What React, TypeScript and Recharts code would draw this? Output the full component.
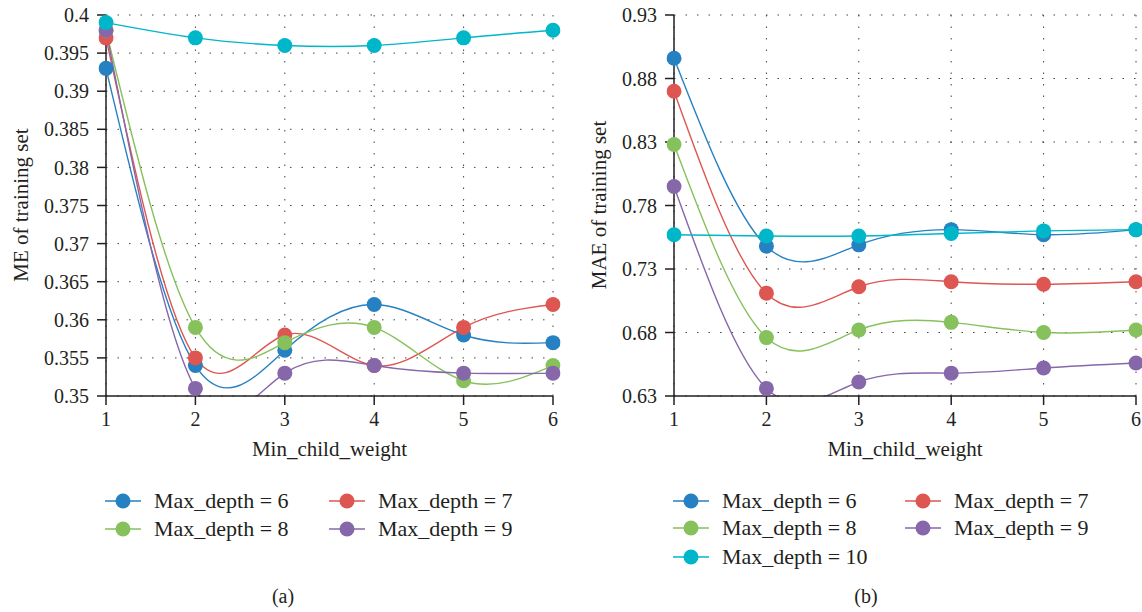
import { CartesianGrid, Line, LineChart, XAxis, YAxis } from "recharts";

const minChildWeight = [1, 2, 3, 4, 5, 6];

// (a) ME of training set
const meDepth6 = [0.393, 0.354, 0.356, 0.362, 0.358, 0.357];
const meDepth7 = [0.397, 0.355, 0.358, 0.354, 0.359, 0.362];
const meDepth8 = [0.398, 0.359, 0.357, 0.359, 0.352, 0.354];
const meDepth9 = [0.398, 0.351, 0.353, 0.354, 0.353, 0.353];
const meDepth10 = [0.399, 0.397, 0.396, 0.396, 0.397, 0.398];
const meTicks = [0.35, 0.355, 0.36, 0.365, 0.37, 0.375, 0.38, 0.385, 0.39, 0.395, 0.4];

// (b) MAE of training set
const maeDepth6 = [0.896, 0.748, 0.749, 0.761, 0.757, 0.761];
const maeDepth7 = [0.87, 0.711, 0.716, 0.72, 0.718, 0.72];
const maeDepth8 = [0.828, 0.676, 0.682, 0.688, 0.68, 0.682];
const maeDepth9 = [0.795, 0.636, 0.641, 0.648, 0.652, 0.656];
const maeDepth10 = [0.757, 0.756, 0.756, 0.758, 0.76, 0.761];
const maeTicks = [0.63, 0.68, 0.73, 0.78, 0.83, 0.88, 0.93];

const seriesNames = ["Max_depth = 6", "Max_depth = 7", "Max_depth = 8", "Max_depth = 9", "Max_depth = 10"];
const colors = ["#2681c3", "#de5652", "#86c15c", "#8667aa", "#00b6c9"];

const FONT = "Liberation Serif";
const INK = "#231f20";

const buildRows = (series: number[][]) =>
    minChildWeight.map((x, i) => {
        const row: Record<string, number> = { x };
        series.forEach((s, k) => {
            row["d" + k] = s[i];
        });
        return row;
    });

type PanelProps = {
    left: number;
    series: number[][];
    ticks: number[];
    yWidth: number;
    marginRight: number;
    fmt: (v: number) => string;
};

const Panel = ({ left, series, ticks, yWidth, marginRight, fmt }: PanelProps) => {
    const rows = buildRows(series);
    const lo = ticks[0];
    const hi = ticks[ticks.length - 1];
    return (
        <div style={{ position: "absolute", left, top: 0 }}>
            <LineChart
                width={571}
                height={470}
                data={rows}
                margin={{ top: 15, right: marginRight, bottom: 12, left: 0 }}
                style={{ fontFamily: FONT }}
            >
                <CartesianGrid stroke="#444" strokeDasharray="1.5 10" />
                <XAxis
                    dataKey="x"
                    type="number"
                    domain={[1, 6]}
                    ticks={minChildWeight}
                    height={62}
                    tickSize={9}
                    tickMargin={7}
                    stroke={INK}
                    strokeWidth={1.5}
                    tick={{ fontSize: 20, fontFamily: FONT, fill: INK }}
                    label={{
                        value: "Min_child_weight",
                        position: "insideBottom",
                        offset: 2,
                        style: { fontSize: 21, fontFamily: FONT, fill: INK },
                    }}
                />
                <XAxis
                    xAxisId="top"
                    orientation="top"
                    type="number"
                    domain={[1, 6]}
                    height={0}
                    tick={false}
                    tickLine={false}
                    stroke={INK}
                    strokeWidth={1.5}
                />
                <YAxis
                    type="number"
                    domain={[lo, hi]}
                    ticks={ticks}
                    allowDataOverflow
                    width={yWidth}
                    tickSize={9}
                    tickMargin={8}
                    stroke={INK}
                    strokeWidth={1.5}
                    tickFormatter={fmt}
                    tick={{ fontSize: 20, fontFamily: FONT, fill: INK }}
                />
                <YAxis
                    yAxisId="right"
                    orientation="right"
                    domain={[0, 1]}
                    width={0}
                    tick={false}
                    tickLine={false}
                    stroke={INK}
                    strokeWidth={1.5}
                />
                {series.map((_, k) => (
                    <Line
                        key={k}
                        type="natural"
                        dataKey={"d" + k}
                        stroke={colors[k]}
                        strokeWidth={1.4}
                        dot={{ r: 7.5, fill: colors[k], stroke: colors[k], strokeWidth: 0, clipDot: false }}
                        activeDot={false}
                        isAnimationActive={false}
                    />
                ))}
            </LineChart>
        </div>
    );
};

const YTitle = ({ text, cx }: { text: string; cx: number }) => (
    <div
        style={{
            position: "absolute",
            left: cx - 150,
            top: 205 - 12,
            width: 300,
            height: 24,
            lineHeight: "24px",
            textAlign: "center",
            transform: "rotate(-90deg)",
            fontSize: 21,
            fontFamily: FONT,
            color: INK,
        }}
    >
        {text}
    </div>
);

const LegendItem = ({ x, y, k }: { x: number; y: number; k: number }) => (
    <div style={{ position: "absolute", left: x, top: y - 14, height: 28, display: "flex", alignItems: "center" }}>
        <svg width={37} height={28}>
            <line x1={0} y1={14} x2={36} y2={14} stroke={colors[k]} strokeWidth={1.6} />
            <circle cx={18} cy={14} r={7.5} fill={colors[k]} />
        </svg>
        <span style={{ marginLeft: 12, fontSize: 22, fontFamily: FONT, color: INK, whiteSpace: "nowrap" }}>
            {seriesNames[k]}
        </span>
    </div>
);

const Caption = ({ text, cx }: { text: string; cx: number }) => (
    <div
        style={{
            position: "absolute",
            left: cx - 30,
            top: 585,
            width: 60,
            textAlign: "center",
            fontSize: 20,
            fontFamily: FONT,
            color: INK,
        }}
    >
        {text}
    </div>
);

export default function App() {
    return (
        <div
            style={{
                position: "absolute",
                left: 0,
                top: 0,
                width: 1142,
                height: 612,
                background: "#fff",
                overflow: "hidden",
                fontFamily: FONT,
            }}
        >
            <Panel
                left={0}
                series={[meDepth6, meDepth7, meDepth8, meDepth9, meDepth10]}
                ticks={meTicks}
                yWidth={106}
                marginRight={18}
                fmt={(v) => String(parseFloat(v.toFixed(3)))}
            />
            <Panel
                left={571}
                series={[maeDepth6, maeDepth7, maeDepth8, maeDepth9, maeDepth10]}
                ticks={maeTicks}
                yWidth={103}
                marginRight={6}
                fmt={(v) => v.toFixed(2)}
            />
            <YTitle text="ME of training set" cx={21} />
            <YTitle text="MAE of training set" cx={599} />

            <LegendItem x={105} y={501} k={0} />
            <LegendItem x={329} y={501} k={1} />
            <LegendItem x={105} y={529} k={2} />
            <LegendItem x={329} y={529} k={3} />

            <LegendItem x={673} y={501} k={0} />
            <LegendItem x={905} y={501} k={1} />
            <LegendItem x={673} y={528} k={2} />
            <LegendItem x={905} y={528} k={3} />
            <LegendItem x={673} y={557} k={4} />

            <Caption text="(a)" cx={283} />
            <Caption text="(b)" cx={866} />
        </div>
    );
}
